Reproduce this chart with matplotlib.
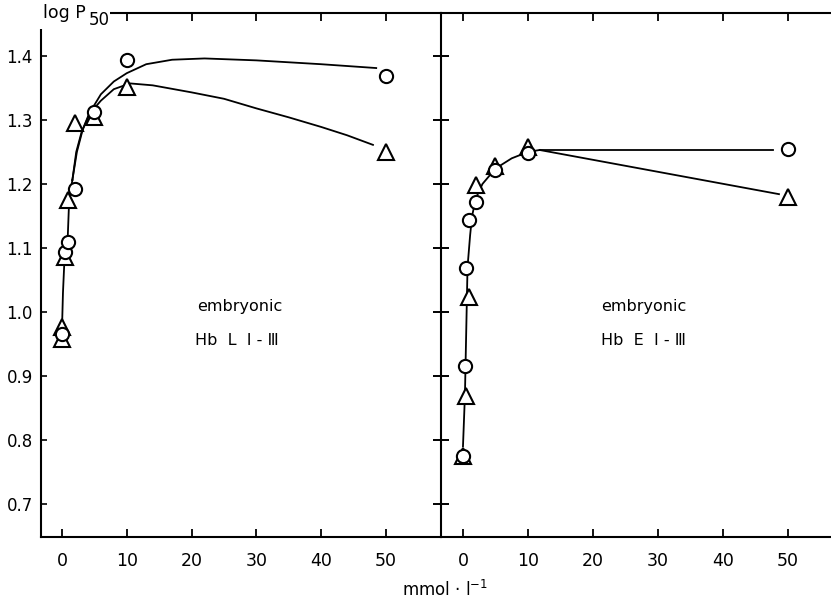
import matplotlib
matplotlib.use("Agg")
import matplotlib.pyplot as plt
from matplotlib.patches import Rectangle

# ---- data ----
# Left panel: embryonic Hb L I-III
L_circ_x = [0, 0.5, 1, 2, 5, 10, 50]
L_circ_y = [0.966, 1.094, 1.110, 1.192, 1.313, 1.393, 1.369]
L_tri_x = [0, 0, 0.5, 1, 2, 5, 10, 50]
L_tri_y = [0.976, 0.958, 1.086, 1.175, 1.295, 1.305, 1.352, 1.250]
# hand-drawn curves (read points)
L_low_x = [0.03, 0.15, 0.35, 0.55, 0.9, 1.05, 1.25, 1.6]
L_low_y = [0.985, 1.03, 1.075, 1.095, 1.12, 1.16, 1.185, 1.206]
L_cc_x = [1.6, 2.2, 3.0, 4.2, 6, 8, 10, 13, 17, 22, 30, 40, 48.5]
L_cc_y = [1.206, 1.25, 1.28, 1.31, 1.34, 1.36, 1.373, 1.387, 1.394, 1.396, 1.393, 1.387, 1.381]
L_tc_x = [1.6, 2.3, 3.2, 4.3, 6, 8, 10.5, 14, 20, 25, 30, 35, 40, 44, 48]
L_tc_y = [1.206, 1.25, 1.285, 1.31, 1.33, 1.348, 1.357, 1.354, 1.343, 1.333, 1.318, 1.304, 1.289, 1.276, 1.261]

# Right panel: embryonic Hb E I-III
R_circ_x = [0, 0.3, 0.5, 1, 2, 5, 10, 50]
R_circ_y = [0.775, 0.915, 1.068, 1.143, 1.172, 1.222, 1.248, 1.255]
R_tri_x = [0, 0.5, 1, 2, 5, 10, 50]
R_tri_y = [0.775, 0.868, 1.023, 1.199, 1.228, 1.258, 1.180]
R_low_x = [0, 0.3, 0.4, 0.5, 0.6, 0.7, 1.1, 1.4, 2.0, 3.0, 5.0, 7.5, 10, 11.8]
R_low_y = [0.79, 0.87, 0.92, 0.97, 1.02, 1.07, 1.12, 1.15, 1.178, 1.2, 1.224, 1.24, 1.25, 1.253]
R_cb_x = [11.8, 47.7]
R_cb_y = [1.253, 1.253]
R_tb_x = [11.8, 48.6]
R_tb_y = [1.253, 1.184]

xticks = [0, 10, 20, 30, 40, 50]
yticks = [0.7, 0.8, 0.9, 1.0, 1.1, 1.2, 1.3, 1.4]
ytick_labels = ["0.7", "0.8", "0.9", "1.0", "1.1", "1.2", "1.3", "1.4"]

W, H = 831, 602
fig = plt.figure(figsize=(W / 100, H / 100), dpi=100)
plt.rcParams['font.family'] = ['DejaVu Sans']

def ax_rect(x0, x1, y0, y1):
    return [x0 / W, 1 - y1 / H, (x1 - x0) / W, (y1 - y0) / H]

axL = fig.add_axes(ax_rect(41, 441, 13, 537))
axR = fig.add_axes(ax_rect(441, 831, 13, 537))

ylim = (0.6484, 1.467)
axL.set_xlim(-3.24, 58.5)
axR.set_xlim(-3.38, 56.6)

lw = 1.3
mk = dict(mfc='white', mec='black', mew=1.5, ls='none', zorder=3)

# left panel
axL.plot(L_low_x, L_low_y, color='black', lw=lw, zorder=1)
axL.plot(L_cc_x, L_cc_y, color='black', lw=lw, zorder=1)
axL.plot(L_tc_x, L_tc_y, color='black', lw=lw, zorder=1)
axL.plot(L_tri_x, L_tri_y, marker='^', ms=11, **mk)
axL.plot(L_circ_x, L_circ_y, marker='o', ms=9.5, **mk)

# right panel
axR.plot(R_low_x, R_low_y, color='black', lw=lw, zorder=1)
axR.plot(R_cb_x, R_cb_y, color='black', lw=lw, zorder=1)
axR.plot(R_tb_x, R_tb_y, color='black', lw=lw, zorder=1)
axR.plot(R_tri_x, R_tri_y, marker='^', ms=11, **mk)
axR.plot(R_circ_x, R_circ_y, marker='o', ms=9.5, **mk)

for ax in (axL, axR):
    ax.set_ylim(*ylim)
    ax.set_xticks(xticks)
    ax.set_xticklabels([str(v) for v in xticks], fontsize=12.5)
    ax.set_yticks(yticks)
    ax.tick_params(axis='x', which='both', direction='in', top=True, bottom=True,
                   length=6, width=1.3, pad=11)
    for s in ax.spines.values():
        s.set_linewidth(1.5)
    ax.spines['right'].set_visible(False)

axL.set_yticklabels(ytick_labels, fontsize=12)
axL.tick_params(axis='y', direction='in', length=4, width=1.2, pad=6)
axR.tick_params(axis='y', direction='inout', length=12, width=1.4, labelleft=False)

# annotations
axL.text(0.496, 0.44, "embryonic", transform=axL.transAxes, ha='center', va='center', fontsize=11.5)
axL.text(0.49, 0.375, "Hb  L  \u2160 - \u2162", transform=axL.transAxes, ha='center', va='center', fontsize=11.5)
axR.text(0.52, 0.44, "embryonic", transform=axR.transAxes, ha='center', va='center', fontsize=11.5)
axR.text(0.52, 0.375, "Hb  E  \u2160 - \u2162", transform=axR.transAxes, ha='center', va='center', fontsize=11.5)

# white patch interrupting the frame corner behind the "log P50" label
fig.patches.append(Rectangle((36 / W, 1 - 29 / H), 74 / W, 29 / H, transform=fig.transFigure,
                             facecolor='white', edgecolor='none', zorder=9))
fig.text(43 / W, 1 - 13 / H, "log P", ha='left', va='center', fontsize=12.5, zorder=10)
fig.text(89 / W, 1 - 20 / H, "50", ha='left', va='center', fontsize=12, zorder=11)
fig.text(445 / W, 1 - 590 / H, "mmol \u00b7 l$^{-1}$", ha='center', va='center', fontsize=12)

fig.savefig("out.png", dpi=100)
